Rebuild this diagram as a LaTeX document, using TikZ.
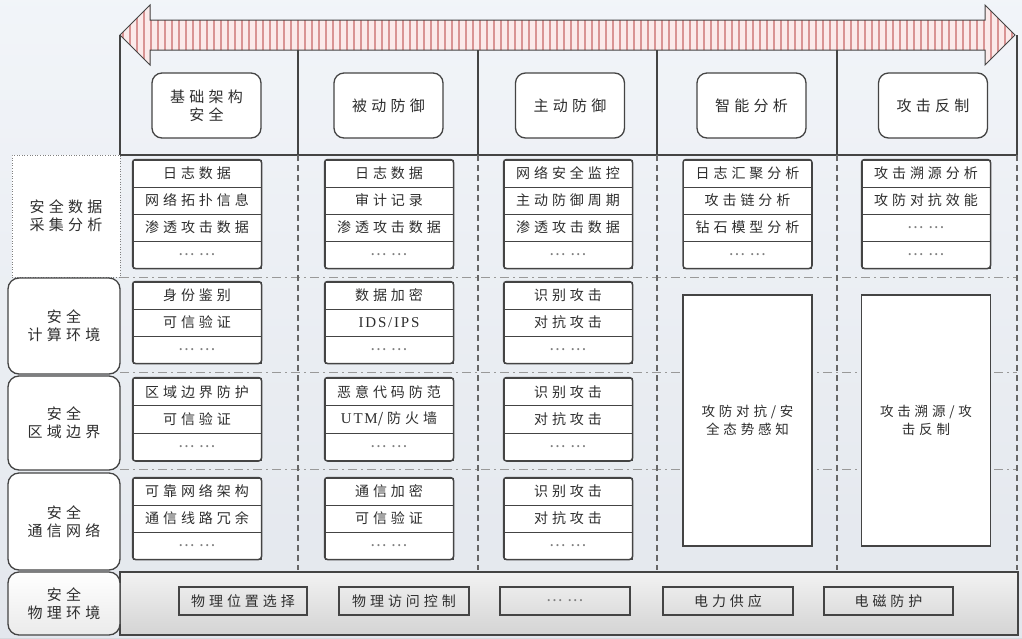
\documentclass[tikz,border=0pt]{standalone}
\usepackage{fontspec}
\setmainfont{Noto Sans CJK SC}
\newfontfamily\cjkwide[LetterSpace=28]{Noto Sans CJK SC}
\newfontfamily\dotfont[LetterSpace=8]{Noto Sans CJK SC}
\newfontfamily\latserif[LetterSpace=12]{Liberation Serif}
\definecolor{bgc}{HTML}{EDF1F7}
\definecolor{inkc}{HTML}{2E2E2E}
\definecolor{linec}{HTML}{444444}
\definecolor{stripec}{HTML}{D99494}
\definecolor{pinkc}{HTML}{FBEAEA}
\newcommand{\moreitems}{{\dotfont\fontsize{16}{16}\selectfont\color{black!50}...\hspace{5pt}...}}
\newcommand{\cellstack}[6]{%
  \foreach \t [count=\i] in {#6} {
    \node[cell, minimum height=#4pt] (#1-\i) at (#2, {#3+(\i-0.5)*#4}) {\t};
  }
  \draw[stackframe] (#1-1.north west) rectangle (#1-#5.south east);
}
\tikzset{
  cell/.style={draw=linec, line width=1pt, fill=white, minimum width=128pt, inner sep=0pt,
    font=\cjkwide\fontsize{14}{15}\selectfont, text=inkc},
  stackframe/.style={draw=linec, line width=1.5pt, rounded corners=3pt},
  head/.style={draw=linec, line width=1.3pt, rounded corners=10pt, fill=white, minimum width=109pt,
    minimum height=65pt, align=center, font=\cjkwide\fontsize{15}{18}\selectfont, text=inkc},
  side/.style={draw=linec, line width=1.3pt, rounded corners=11pt, fill=white, minimum width=112pt,
    align=center, font=\cjkwide\fontsize{15}{18}\selectfont, text=inkc},
  bigbox/.style={draw=linec, line width=1.4pt, fill=white, minimum width=129pt, minimum height=251pt,
    align=center, font=\cjkwide\fontsize{13.5}{18}\selectfont, text=inkc},
  physbox/.style={draw=linec, line width=1.3pt, minimum height=28pt, inner sep=0pt,
    font=\cjkwide\fontsize{14}{15}\selectfont, text=inkc},
  vdash/.style={draw=black!60, line width=1.4pt, dash pattern=on 6pt off 4pt},
  hdash/.style={draw=black!40, line width=1pt, dash pattern=on 9pt off 4pt on 2pt off 4pt},
  frameline/.style={draw=linec, line width=1.1pt},
  stripe/.style={draw=stripec, line width=2.4pt}
}
\begin{document}
\begin{tikzpicture}[x=1pt,y=-1pt]
\useasboundingbox (0,0) rectangle (1022,638);
\shade[top color=white!70!bgc, bottom color=bgc!90!black!100] (0,0) rectangle (1022,638);
\fill[bgc, opacity=0.6] (0,0) rectangle (1022,638);

% double arrow
\begin{scope}
  \clip (120,35) -- (150,5) -- (150,20) -- (985,20) -- (985,5) -- (1015,35)
        -- (985,65) -- (985,50) -- (150,50) -- (150,65) -- cycle;
  \fill[pinkc] (110,0) rectangle (1020,70);
  \foreach \x in {123,130,...,1015} \draw[stripe] (\x,0) -- (\x,70);
\end{scope}
\draw[linec, line width=1pt, line join=miter]
  (120,35) -- (150,5) -- (150,20) -- (985,20) -- (985,5) -- (1015,35)
  -- (985,65) -- (985,50) -- (150,50) -- (150,65) -- cycle;

% top frame
\draw[frameline] (120,35) -- (120,155) -- (1017,155) -- (1017,35);
\foreach \x in {298,478,657,837} \draw[frameline] (\x,50) -- (\x,155);

% grid dashed lines
\foreach \y in {277,372,469} \draw[hdash] (120,\y) -- (1017,\y);
\foreach \x in {298,478,657,837,1017} \draw[vdash] (\x,155) -- (\x,570);

% header boxes
\node[head] (h1) at (206.5,105.5) {基础架构\\安全};
\node[head] (h2) at (388.5,105.5) {被动防御};
\node[head] (h3) at (570,105.5) {主动防御};
\node[head] (h4) at (751.5,105.5) {智能分析};
\node[head] (h5) at (933,105.5) {攻击反制};

% side labels
\node[draw=black!50, line width=0.6pt, dotted, fill=white, minimum width=108pt, minimum height=122pt,
  align=center, font=\cjkwide\fontsize{15}{18}\selectfont, text=inkc] (s1) at (66,216) {安全数据\\采集分析};
\node[side, minimum height=96pt] (s2) at (64,326) {安全\\计算环境};
\node[side, minimum height=94pt] (s3) at (64,423) {安全\\区域边界};
\node[side, minimum height=97pt] (s4) at (64,521.5) {安全\\通信网络};

% row 1: data collection & analysis
\cellstack{a1}{197}{160}{27}{4}{日志数据,网络拓扑信息,渗透攻击数据,\moreitems}
\cellstack{a2}{389}{160}{27}{4}{日志数据,审计记录,渗透攻击数据,\moreitems}
\cellstack{a3}{568}{160}{27}{4}{网络安全监控,主动防御周期,渗透攻击数据,\moreitems}
\cellstack{a4}{747.5}{160}{27}{4}{日志汇聚分析,攻击链分析,钻石模型分析,\moreitems}
\cellstack{a5}{926}{160}{27}{4}{攻击溯源分析,攻防对抗效能,\moreitems,\moreitems}

% row 2: computing environment
\cellstack{b1}{197}{282}{27}{3}{身份鉴别,可信验证,\moreitems}
\cellstack{b2}{389}{282}{27}{3}{数据加密,{\latserif\fontsize{15}{15}\selectfont IDS/IPS},\moreitems}
\cellstack{b3}{568}{282}{27}{3}{识别攻击,对抗攻击,\moreitems}

% row 3: area boundary
\cellstack{c1}{197}{378}{27.5}{3}{区域边界防护,可信验证,\moreitems}
\cellstack{c2}{389}{378}{27.5}{3}{恶意代码防范,{{\latserif\fontsize{15}{15}\selectfont UTM}/防火墙},\moreitems}
\cellstack{c3}{568}{378}{27.5}{3}{识别攻击,对抗攻击,\moreitems}

% row 4: communication network
\cellstack{d1}{197}{478}{27}{3}{可靠网络架构,通信线路冗余,\moreitems}
\cellstack{d2}{389}{478}{27}{3}{通信加密,可信验证,\moreitems}
\cellstack{d3}{568}{478}{27}{3}{识别攻击,对抗攻击,\moreitems}

% big boxes
\node[bigbox] (big4) at (747.5,420.5) {攻防对抗/安\\全态势感知};
\node[bigbox] (big5) at (926,420.5) {攻击溯源/攻\\击反制};

% physical environment
\node[draw=linec, line width=1.4pt, minimum width=898pt, minimum height=63pt,
  top color=black!5, bottom color=black!17] (band) at (569,603.5) {};
\node[side, minimum height=63pt, top color=white, bottom color=black!8] (s5) at (64,603.5) {安全\\物理环境};
\node[physbox, minimum width=128pt] (p1) at (243,601) {物理位置选择};
\node[physbox, minimum width=130pt] (p2) at (404,601) {物理访问控制};
\node[physbox, minimum width=130pt] (p3) at (565,601) {\moreitems};
\node[physbox, minimum width=130pt] (p4) at (728,601) {电力供应};
\node[physbox, minimum width=129pt] (p5) at (888.5,601) {电磁防护};
\end{tikzpicture}
\end{document}
